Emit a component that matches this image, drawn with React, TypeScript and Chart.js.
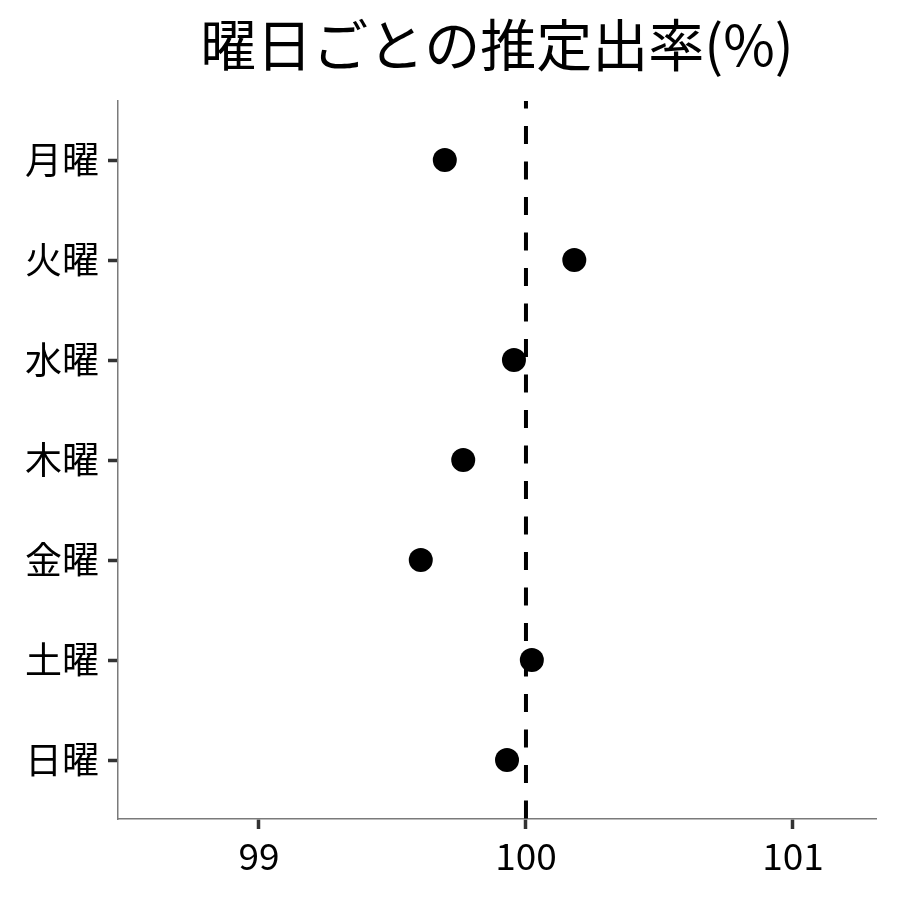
import React, { useEffect, useRef } from "react";
import { Chart, registerables } from "chart.js";

Chart.register(...registerables);

const TITLE = "曜日ごとの推定出率(%)";
const DAYS = ["月曜", "火曜", "水曜", "木曜", "金曜", "土曜", "日曜"];
const RATES = [99.696, 100.181, 99.955, 99.765, 99.606, 100.022, 99.929];
const X_TICKS = [99, 100, 101];
const REF_VALUE = 100;
const X_MIN = 98.472;
const X_MAX = 101.311;
const Y_MIN = -0.59;
const Y_MAX = 6.59;

const FONT = "'Noto Sans CJK JP', 'Noto Sans', sans-serif";

const titlePlugin = {
  id: "customTitle",
  afterDraw(chart: any) {
    const { ctx, chartArea } = chart;
    ctx.save();
    ctx.font = `56px ${FONT}`;
    ctx.fillStyle = "#000";
    ctx.textAlign = "center";
    ctx.textBaseline = "middle";
    ctx.fillText(TITLE, (chartArea.left + chartArea.right) / 2, 45);
    ctx.restore();
  },
};

export default function App() {
  const ref = useRef<HTMLCanvasElement>(null);

  useEffect(() => {
    if (!ref.current) return;
    const chart = new Chart(ref.current, {
      type: "scatter",
      data: {
        datasets: [
          {
            type: "line",
            data: [
              { x: REF_VALUE, y: Y_MIN },
              { x: REF_VALUE, y: Y_MAX },
            ],
            borderColor: "#000",
            borderWidth: 4,
            borderDash: [18, 17.5],
            borderDashOffset: 10.5,
            pointRadius: 0,
            fill: false,
            order: 2,
          } as any,
          {
            data: RATES.map((v, i) => ({ x: v, y: i })),
            backgroundColor: "#000",
            borderColor: "#000",
            borderWidth: 0,
            pointRadius: 12,
            pointHoverRadius: 12,
            order: 1,
          },
        ],
      },
      options: {
        responsive: false,
        animation: false,
        layout: { padding: { top: 101, right: 24, left: 0, bottom: 0 } },
        plugins: {
          legend: { display: false },
          tooltip: { enabled: false },
          title: { display: false },
        },
        scales: {
          x: {
            type: "linear",
            min: X_MIN,
            max: X_MAX,
            afterBuildTicks: (scale: any) => {
              scale.ticks = X_TICKS.map((v) => ({ value: v }));
            },
            afterFit: (scale: any) => {
              scale.height = 81;
            },
            grid: {
              drawOnChartArea: false,
              drawTicks: true,
              tickLength: 10,
              tickColor: "#333",
              tickWidth: 3.5,
            },
            border: { display: true, color: "#7a7a7a", width: 1.5 },
            ticks: {
              color: "#000",
              padding: 5,
              font: { family: FONT, size: 37 },
              callback: (v: any) => String(v),
            },
          },
          y: {
            type: "linear",
            min: Y_MIN,
            max: Y_MAX,
            reverse: true,
            afterBuildTicks: (scale: any) => {
              scale.ticks = DAYS.map((_, i) => ({ value: i }));
            },
            afterFit: (scale: any) => {
              scale.width = 118;
            },
            grid: {
              drawOnChartArea: false,
              drawTicks: true,
              tickLength: 10,
              tickColor: "#333",
              tickWidth: 3.5,
            },
            border: { display: true, color: "#7a7a7a", width: 1.5 },
            ticks: {
              color: "#000",
              padding: 9,
              font: { family: FONT, size: 37 },
              callback: (v: any) => DAYS[Math.round(Number(v))] ?? "",
            },
          },
        },
      },
      plugins: [titlePlugin],
    });
    return () => chart.destroy();
  }, []);

  return (
    <div style={{ position: "absolute", left: 0, top: 0, width: 900, height: 900, background: "#fff" }}>
      <canvas ref={ref} width={900} height={900} style={{ width: 900, height: 900 }} />
    </div>
  );
}
